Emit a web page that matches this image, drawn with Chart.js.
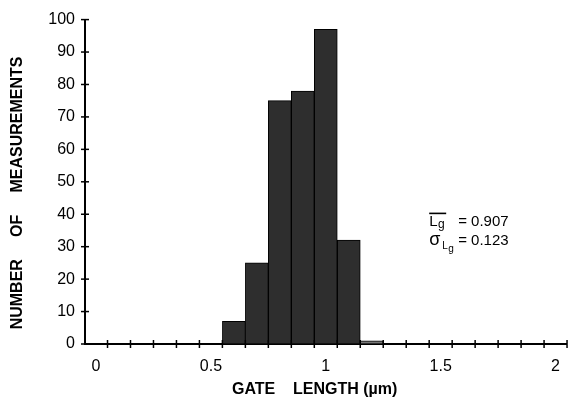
<!DOCTYPE html>
<html><head><meta charset="utf-8">
<script src="https://cdn.jsdelivr.net/npm/chart.js@4/dist/chart.umd.min.js"></script>
<style>html,body{margin:0;padding:0;background:#fff}#wrap{width:573px;height:404px;position:relative}</style>
</head><body><div id="wrap"><canvas id="c" width="573" height="404"></canvas></div>
<script>
// ---- data ----
const binCenters = [0.6, 0.7, 0.8, 0.9, 1.0, 1.1, 1.2];
const counts = [7, 25, 75, 78, 97, 32, 1];
const xTickLabels = [0, 0.5, 1, 1.5, 2];
const xTickMarks = [0.05, 0.15, 0.25, 0.35, 0.45, 0.55, 0.65, 0.75, 0.85, 0.95, 1.05, 1.15, 1.25, 1.35, 1.45, 1.55, 1.65, 1.75, 1.85, 1.95, 2.05];
const yTicks = [0, 10, 20, 30, 40, 50, 60, 70, 80, 90, 100];
const meanValueText = '0.907';
const sigmaValueText = '0.123';
const NB = '\u00a0';
const xTitle = 'GATE' + NB.repeat(4) + 'LENGTH' + NB + '(\u00b5m)';
const yTitle = 'NUMBER' + NB.repeat(5) + 'OF' + NB.repeat(5) + 'MEASUREMENTS';

const FONT = '"Liberation Sans", Arial, Helvetica, sans-serif';
const barColors = ['#2e2e2e', '#2e2e2e', '#2e2e2e', '#2e2e2e', '#2e2e2e', '#2e2e2e', '#777'];

const tickPlugin = {
  id: 'crossTicks',
  afterDraw(chart) {
    const {ctx, scales: {x, y}, chartArea} = chart;
    ctx.save();
    ctx.strokeStyle = '#000';
    ctx.lineWidth = 1.5;
    const ay = y.getPixelForValue(0);
    xTickMarks.forEach(v => {
      const px = x.getPixelForValue(v);
      ctx.beginPath(); ctx.moveTo(px, ay - 4); ctx.lineTo(px, ay + 4); ctx.stroke();
    });
    const axp = chartArea.left;
    yTicks.forEach(v => {
      const py = y.getPixelForValue(v);
      ctx.beginPath(); ctx.moveTo(axp - 4, py); ctx.lineTo(axp + 4, py); ctx.stroke();
    });
    ctx.restore();
  }
};

const notePlugin = {
  id: 'stats',
  afterDraw(chart) {
    const {ctx, scales: {x, y}} = chart;
    ctx.save();
    ctx.fillStyle = '#000';
    ctx.textBaseline = 'alphabetic';
    ctx.textAlign = 'left';
    const ax = x.getPixelForValue(1.45);
    const b1 = y.getPixelForValue(36.5);
    ctx.font = '15px ' + FONT;
    ctx.fillText('L', ax, b1);
    const wL = ctx.measureText('L').width;
    ctx.fillRect(ax, b1 - 13, 17, 1.6);
    ctx.font = '12px ' + FONT;
    ctx.fillText('g', ax + wL + 0.5, b1 + 2);
    ctx.font = '15px ' + FONT;
    ctx.fillText('= ' + meanValueText, ax + 29, b1);

    const b2 = y.getPixelForValue(30.6);
    ctx.font = '18px ' + FONT;
    ctx.fillText('\u03c3', ax, b2);
    ctx.font = '10px ' + FONT;
    ctx.fillText('L', ax + 13, b2 + 4);
    ctx.fillText('g', ax + 19, b2 + 7);
    ctx.font = '15px ' + FONT;
    ctx.fillText('= ' + sigmaValueText, ax + 29, b2);
    ctx.restore();
  }
};

new Chart(document.getElementById('c'), {
  type: 'bar',
  data: {
    datasets: [{
      data: binCenters.map((c, i) => ({x: c, y: counts[i]})),
      backgroundColor: barColors,
      borderColor: '#000',
      borderWidth: 1,
      barPercentage: 1,
      categoryPercentage: 1
    }]
  },
  options: {
    responsive: false,
    animation: false,
    events: [],
    layout: {padding: {top: 18, left: 0, right: 0, bottom: 0}},
    plugins: {legend: {display: false}, tooltip: {enabled: false}},
    scales: {
      x: {
        type: 'linear',
        offset: false,
        min: -0.048,
        max: 2.048,
        afterBuildTicks: s => { s.ticks = xTickLabels.map(v => ({value: v})); },
        afterFit: s => { s.height = 60; },
        grid: {display: true, drawOnChartArea: false, drawTicks: false, color: 'rgba(0,0,0,0)'},
        border: {display: true, color: '#000', width: 2},
        ticks: {
          padding: 13,
          color: '#000',
          font: {family: FONT, size: 16},
          maxRotation: 0,
          autoSkip: false,
          callback: v => String(v)
        },
        title: {
          display: true,
          text: xTitle + NB.repeat(5),
          color: '#000',
          font: {family: FONT, size: 16, weight: 'bold'},
          padding: {top: 0, bottom: 5}
        }
      },
      y: {
        min: 0,
        max: 100,
        afterFit: s => { s.width = 85; },
        afterBuildTicks: s => { s.ticks = yTicks.map(v => ({value: v})); },
        grid: {display: true, drawOnChartArea: false, drawTicks: false, color: 'rgba(0,0,0,0)'},
        border: {display: true, color: '#000', width: 2},
        ticks: {
          padding: 10,
          color: '#000',
          font: {family: FONT, size: 16},
          autoSkip: false
        },
        title: {
          display: true,
          text: yTitle + NB.repeat(5),
          color: '#000',
          font: {family: FONT, size: 16, weight: 'bold'},
          padding: {top: 8, bottom: 0}
        }
      }
    }
  },
  plugins: [tickPlugin, notePlugin]
});
</script>
</body></html>
